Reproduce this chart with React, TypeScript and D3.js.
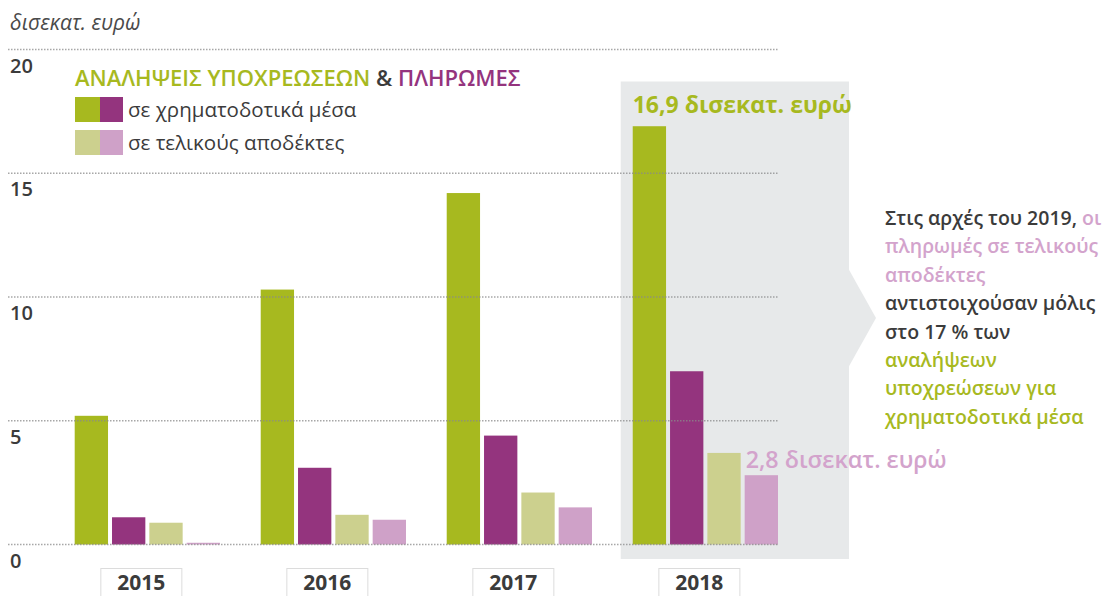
import React from "react";
import * as d3 from "d3";

// values in δισεκατ. ευρώ
const years = ["2015", "2016", "2017", "2018"];
const commitInstruments = [5.2, 10.3, 14.2, 16.9];
const payInstruments = [1.1, 3.1, 4.4, 7.0];
const commitRecipients = [0.88, 1.2, 2.1, 3.7];
const payRecipients = [0.07, 1.0, 1.5, 2.8];
const yTicks = [0, 5, 10, 15, 20];

const seriesNames = ["commitInstr", "payInstr", "commitRecip", "payRecip"];
const seriesColors = ["#a7b91f", "#94347e", "#ccd08e", "#cfa1c8"];

const GREEN = "#a7b91f";
const PURPLE = "#94347e";
const PINK = "#d3a3cc";
const DARK = "#3b3b3b";
const FONT = "'Open Sans', 'Noto Sans', sans-serif";

const noteLines = [
  [{ t: "Στις αρχές του 2019, ", c: DARK }, { t: "οι", c: PINK }],
  [{ t: "πληρωμές σε τελικούς", c: PINK }],
  [{ t: "αποδέκτες", c: PINK }],
  [{ t: "αντιστοιχούσαν μόλις", c: DARK }],
  [{ t: "στο 17 % των", c: DARK }],
  [{ t: "αναλήψεων", c: GREEN }],
  [{ t: "υποχρεώσεων για", c: GREEN }],
  [{ t: "χρηματοδοτικά μέσα", c: GREEN }],
];

export default function App() {
  const width = 1106, height = 596;

  const y = d3.scaleLinear().domain([0, 20]).range([544.5, 49.5]);
  const x = d3.scaleBand().domain(years).range([74.7, 778]).paddingInner(0.219).paddingOuter(0);
  const xs = d3.scaleBand().domain(seriesNames).range([0, x.bandwidth()]).paddingInner(0.107);

  const data = years.map((yr, i) => ({
    year: yr,
    vals: [commitInstruments[i], payInstruments[i], commitRecipients[i], payRecipients[i]],
  }));

  const last = years[years.length - 1];
  const x18 = x(last)!;

  return (
    <svg width={width} height={height} style={{ position: "absolute", left: 0, top: 0 }} fontFamily={FONT}>
      <rect width={width} height={height} fill="#fff" />

      {/* highlight panel with callout arrow */}
      <rect x={x18 - 12} y={81.5} width={849 - (x18 - 12)} height={559 - 81.5} fill="#e7e9ea" />
      <path d="M848,268 L876,318 L848,368 Z" fill="#e7e9ea" />

      <text x={10} y={30} fontSize={21} fontStyle="italic" fill="#4a4a4a">δισεκατ. ευρώ</text>

      {/* bars */}
      {data.map((d) => (
        <g key={d.year} transform={`translate(${x(d.year)},0)`}>
          {d.vals.map((v, j) => (
            <rect key={j} x={xs(seriesNames[j])} y={y(v)} width={xs.bandwidth()} height={y(0) - y(v)} fill={seriesColors[j]} />
          ))}
        </g>
      ))}

      {/* dotted gridlines over the bars */}
      {yTicks.map((t) => (
        <g key={t}>
          <line x1={8} x2={778} y1={y(t)} y2={y(t)} stroke="#8a8a8a" strokeWidth={1.3} strokeDasharray="1.5,1.5" opacity={0.75} />
          <text x={10} y={y(t) + 23} fontSize={20} fontWeight={600} fill={DARK}>{t}</text>
        </g>
      ))}

      {/* year labels */}
      {years.map((yr) => {
        const cx = x(yr)! + x.bandwidth() / 2 - 6;
        return (
          <g key={yr}>
            <rect x={cx - 40.5} y={568.5} width={81} height={34} fill="#fff" stroke="#dcdcdc" />
            <text x={cx} y={590} textAnchor="middle" fontSize={21} fontWeight={700} fill={DARK}>{yr}</text>
          </g>
        );
      })}

      {/* title & legend */}
      <text x={75} y={86} fontSize={22} fontWeight={600}>
        <tspan fill={GREEN}>ΑΝΑΛΗΨΕΙΣ ΥΠΟΧΡΕΩΣΕΩΝ </tspan>
        <tspan fill={DARK}>&amp; </tspan>
        <tspan fill={PURPLE}>ΠΛΗΡΩΜΕΣ</tspan>
      </text>
      <rect x={75} y={97} width={25} height={25} fill={seriesColors[0]} />
      <rect x={100} y={97} width={23} height={25} fill={seriesColors[1]} />
      <text x={128} y={117} fontSize={20.5} fill={DARK}>σε χρηματοδοτικά μέσα</text>
      <rect x={75} y={130} width={25} height={25} fill={seriesColors[2]} />
      <rect x={100} y={130} width={23} height={25} fill={seriesColors[3]} />
      <text x={128} y={150} fontSize={20.5} fill={DARK}>σε τελικούς αποδέκτες</text>

      {/* value labels */}
      <text x={x18} y={113} fontSize={23} fontWeight={700} fill={GREEN}>
        {String(commitInstruments[3]).replace(".", ",")} δισεκατ. ευρώ
      </text>
      <text x={x18 + xs("payRecip")! + 1} y={468} fontSize={23.3} fontWeight={600} fill={PINK}>
        {String(payRecipients[3]).replace(".", ",")} δισεκατ. ευρώ
      </text>

      {/* annotation */}
      <text fontSize={19.5} fontWeight={600}>
        {noteLines.map((line, i) => (
          <tspan key={i} x={885} y={225 + i * 28.4}>
            {line.map((s, k) => (
              <tspan key={k} fill={s.c}>{s.t}</tspan>
            ))}
          </tspan>
        ))}
      </text>
    </svg>
  );
}
